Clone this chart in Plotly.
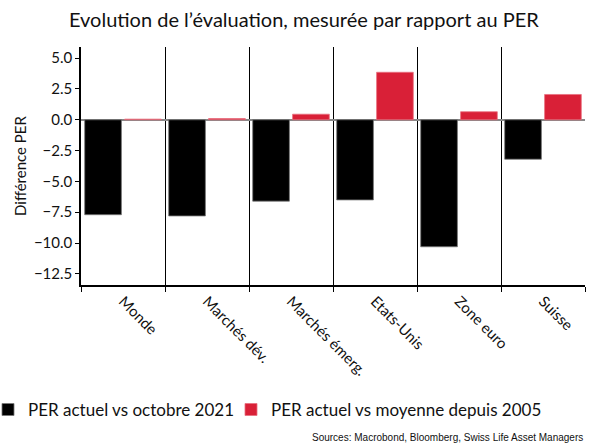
import plotly.graph_objects as go

categories = ["Monde", "Marchés dév.", "Marchés émerg.", "Etats-Unis", "Zone euro", "Suisse"]
per_vs_oct2021 = [-7.7, -7.8, -6.6, -6.5, -10.3, -3.2]
per_vs_avg2005 = [0.05, 0.1, 0.45, 3.85, 0.65, 2.05]
series_names = ["PER actuel vs octobre 2021", "PER actuel vs moyenne depuis 2005"]
y_ticks = [-12.5, -10.0, -7.5, -5.0, -2.5, 0.0, 2.5, 5.0]

FONT = "Lato, Open Sans, sans-serif"
TXT = "#111111"

fig = go.Figure()
fig.add_trace(go.Bar(x=categories, y=per_vs_oct2021, name=series_names[0], legendwidth=198,
                     marker=dict(color="#000000", line=dict(color="#777777", width=0.8))))
fig.add_trace(go.Bar(x=categories, y=per_vs_avg2005, name=series_names[1],
                     marker=dict(color="#D92037", line=dict(color="#E9707F", width=0.8))))

fig.update_layout(
    width=590, height=446,
    margin=dict(l=81, r=5, t=47, b=161, autoexpand=False),
    paper_bgcolor="white", plot_bgcolor="white",
    barmode="group", bargap=0.05, bargroupgap=0.08,
    font=dict(family=FONT, size=15, color=TXT),
    title=dict(text="Evolution de l’évaluation, mesurée par rapport au PER",
               x=0.515, xref="container", xanchor="center", y=0.955, yanchor="middle",
               font=dict(family=FONT, size=20, color=TXT)),
    showlegend=True,
    legend=dict(orientation="h", x=-0.1845, xanchor="left", y=-0.525, yanchor="middle",
                font=dict(family=FONT, size=17, color=TXT),
                itemwidth=30, tracegroupgap=0, traceorder="normal",
                bgcolor="rgba(0,0,0,0)"),
)

fig.update_xaxes(
    type="category", tickson="boundaries", showgrid=True, gridcolor="#000000", gridwidth=1,
    showline=True, linecolor="#000000", linewidth=1.5, automargin=False,
    ticks="outside", ticklen=5, tickcolor="#000000",
    tickangle=45, tickfont=dict(family=FONT, size=15, color=TXT),
)
fig.update_yaxes(
    range=[-13.4, 5.9], tickvals=y_ticks, tickformat=".1f", automargin=False,
    showgrid=False, zeroline=True, zerolinecolor="#888888", zerolinewidth=1.5,
    showline=True, linecolor="#000000", linewidth=1.5,
    ticks="outside", ticklen=4, tickcolor="#000000",
    title=dict(text="Différence PER", font=dict(family=FONT, size=15, color=TXT), standoff=4),
    tickfont=dict(family=FONT, size=15, color=TXT),
)

fig.add_annotation(text="Sources: Macrobond, Bloomberg, Swiss Life Asset Managers",
                   xref="paper", yref="paper", x=1.0, xanchor="right",
                   y=-0.639, yanchor="middle", showarrow=False,
                   font=dict(family="Liberation Sans, Arial, sans-serif", size=10, color=TXT))

fig.write_html("out.html", config={"displayModeBar": False},
               post_script="document.body.style.margin='0';document.body.style.overflow='hidden';")
